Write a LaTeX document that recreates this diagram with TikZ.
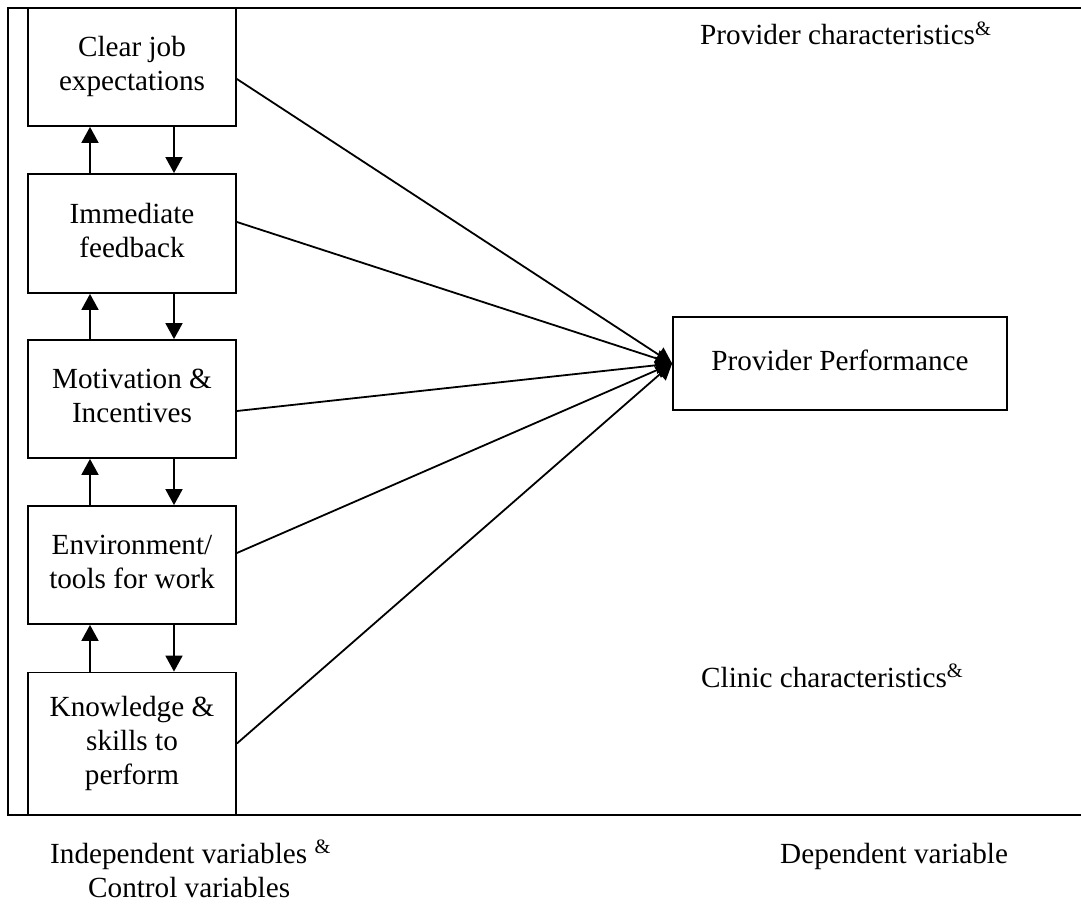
\documentclass[tikz,border=0pt]{standalone}
\usepackage{fontspec}
\setmainfont{Liberation Serif}
\usetikzlibrary{arrows.meta}
\newcommand\boxtext[1]{\begin{tabular}{@{}c@{}}#1\end{tabular}}
\begin{document}
\begin{tikzpicture}[x=1pt,y=-1pt,
  every node/.style={font=\fontsize{29.2}{34}\selectfont},
  box/.style={draw, line width=1.8pt, minimum width=208pt, inner sep=0pt},
  arr/.style={line width=1.8pt, -{Triangle[length=16pt,width=17pt]}},
  frame/.style={line width=1.9pt},
  lbl/.style={inner sep=0pt, anchor=base west}]
\useasboundingbox (0,0) rectangle (1081,904);
\draw[frame] (1081,8) -- (8,8) -- (8,815) -- (1081,815);
\node[box, minimum height=118pt] (b1) at (132,67) {\boxtext{Clear job\\expectations}};
\node[box, minimum height=119pt] (b2) at (132,233.5) {\boxtext{Immediate\\feedback}};
\node[box, minimum height=118pt] (b3) at (132,399) {\boxtext{Motivation \&\\Incentives}};
\node[box, minimum height=118pt] (b4) at (132,565) {\boxtext{Environment/\\tools for work}};
\node[box, minimum height=142pt] (b5) at (132,743.5) {\raisebox{-4pt}{\boxtext{Knowledge \&\\skills to\\perform}}};
\node[box, minimum width=334pt, minimum height=93pt] (pp) at (840,363.5) {\raisebox{5pt}{\boxtext{Provider Performance}}};
\coordinate (upx) at (90,0);
\coordinate (dnx) at (174,0);
\foreach \a/\b in {b1/b2,b2/b3,b3/b4,b4/b5}{
  \draw[arr] (\b.north -| upx) -- (\a.south -| upx);
  \draw[arr] (\a.south -| dnx) -- (\b.north -| dnx);
}
\draw[arr] ([yshift=-12pt]b1.east) -- (pp.west);
\draw[arr] ([yshift=11.5pt]b2.east) -- (pp.west);
\draw[arr] ([yshift=-12pt]b3.east) -- (pp.west);
\draw[arr] ([yshift=12pt]b4.east) -- (pp.west);
\draw[arr] (b5.east) -- (pp.west);
\node[lbl] (pc) at (700,45) {Provider characteristics\textsuperscript{\&}};
\node[lbl] (cc) at (701,687) {Clinic characteristics\textsuperscript{\&}};
\node[lbl] (iv) at (50,863) {Independent variables \textsuperscript{\&}};
\node[lbl] (cv) at (88,897) {Control variables};
\node[lbl] (dv) at (780,863) {Dependent variable};
\end{tikzpicture}
\end{document}
